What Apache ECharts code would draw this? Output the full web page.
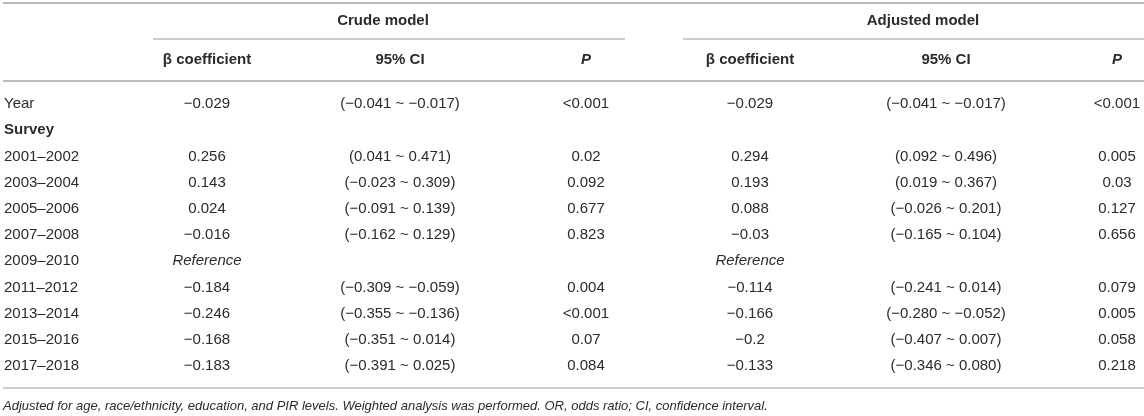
<!DOCTYPE html>
<html>
<head>
<meta charset="utf-8">
<script src="https://cdn.jsdelivr.net/npm/echarts@6/dist/echarts.min.js"></script>
<style>
  html, body { margin: 0; padding: 0; background: #fff; }
  #main { width: 1144px; height: 416px; }
</style>
</head>
<body>
<div id="main"></div>
<script>
// table rows (Year, Survey header, survey cycles)
const rowLabels = ['Year', 'Survey', '2001–2002', '2003–2004', '2005–2006', '2007–2008',
  '2009–2010', '2011–2012', '2013–2014', '2015–2016', '2017–2018'];
const boldRows = ['Survey'];
const refRow = '2009–2010';

// crude model
const crudeBeta = [-0.029, null, 0.256, 0.143, 0.024, -0.016, null, -0.184, -0.246, -0.168, -0.183];
const crudeLow = [-0.041, null, 0.041, -0.023, -0.091, -0.162, null, -0.309, -0.355, -0.351, -0.391];
const crudeHigh = [-0.017, null, 0.471, 0.309, 0.139, 0.129, null, -0.059, -0.136, 0.014, 0.025];
const crudeP = ['<0.001', '', '0.02', '0.092', '0.677', '0.823', '', '0.004', '<0.001', '0.07', '0.084'];

// adjusted model
const adjBeta = [-0.029, null, 0.294, 0.193, 0.088, -0.03, null, -0.114, -0.166, -0.2, -0.133];
const adjLow = [-0.041, null, 0.092, 0.019, -0.026, -0.165, null, -0.241, -0.280, -0.407, -0.346];
const adjHigh = [-0.017, null, 0.496, 0.367, 0.201, 0.104, null, 0.014, -0.052, 0.007, 0.080];
const adjP = ['<0.001', '', '0.005', '0.03', '0.127', '0.656', '', '0.079', '0.005', '0.058', '0.218'];

const groupTitles = ['Crude model', 'Adjusted model'];
const colTitles = ['β coefficient', '95% CI', 'P'];
const footnote = 'Adjusted for age, race/ethnicity, education, and PIR levels. Weighted analysis was performed. OR, odds ratio; CI, confidence interval.';

// layout
const W = 1144, H = 416;
const colX = { label: 4, cb: 207, cci: 400, cp: 586, ab: 750, aci: 946, ap: 1117 };
const groupSpan = [[153, 625], [683, 1144]];
const groupTitleX = [383, 923];
const FONT = '"Liberation Sans", Arial, Helvetica, sans-serif';
const FS = 15;
const TXT = '#2b2b2b';
const RULE = '#bcbcbc';

const minus = v => String(v).replace('-', '\u2212');
const fmtBeta = v => v == null ? '' : minus(v);
const fmtCI = (lo, hi) => lo == null ? '' : '(' + minus(lo.toFixed(3)) + ' ~ ' + minus(hi.toFixed(3)) + ')';

let cells = [];
rowLabels.forEach((lab, i) => {
  cells.push({ value: [colX.label, i], text: lab, align: 'left', bold: boldRows.includes(lab) });
  if (lab === refRow) {
    cells.push({ value: [colX.cb, i], text: 'Reference', align: 'center', italic: true });
    cells.push({ value: [colX.ab, i], text: 'Reference', align: 'center', italic: true });
    return;
  }
  cells.push({ value: [colX.cb, i], text: fmtBeta(crudeBeta[i]), align: 'center' });
  cells.push({ value: [colX.cci, i], text: fmtCI(crudeLow[i], crudeHigh[i]), align: 'center' });
  cells.push({ value: [colX.cp, i], text: crudeP[i], align: 'center' });
  cells.push({ value: [colX.ab, i], text: fmtBeta(adjBeta[i]), align: 'center' });
  cells.push({ value: [colX.aci, i], text: fmtCI(adjLow[i], adjHigh[i]), align: 'center' });
  cells.push({ value: [colX.ap, i], text: adjP[i], align: 'center' });
});
cells = cells.filter(c => c.text !== '');

const hline = (x1, x2, y, w) => ({
  type: 'line', silent: true,
  shape: { x1: x1, y1: y, x2: x2, y2: y },
  style: { stroke: RULE, lineWidth: w }
});
const htext = (x, y, text, style) => ({
  type: 'text', silent: true, x: x, y: y,
  style: Object.assign({ text: text, fill: TXT, align: 'center', verticalAlign: 'middle',
    font: 'bold ' + FS + 'px ' + FONT }, style || {})
});

let graphics = [
  hline(3, W, 3, 2),
  hline(groupSpan[0][0], groupSpan[0][1], 39, 1.5),
  hline(groupSpan[1][0], groupSpan[1][1], 39, 1.5),
  hline(3, W, 81, 2),
  hline(3, W, 388, 1.5),
  htext(groupTitleX[0], 21, groupTitles[0]),
  htext(groupTitleX[1], 21, groupTitles[1]),
  htext(3, 406, footnote, { align: 'left', font: 'italic 13px ' + FONT })
];
[[colX.cb, colX.cci, colX.cp], [colX.ab, colX.aci, colX.ap]].forEach(xs => {
  xs.forEach((x, k) => {
    graphics.push(htext(x, 60, colTitles[k], k === 2 ? { font: 'italic bold ' + FS + 'px ' + FONT } : null));
  });
});

var chartDom = document.getElementById('main');
var myChart = echarts.init(chartDom, null, { renderer: 'canvas' });
let option = {
  animation: false,
  backgroundColor: '#fff',
  grid: { left: 0, right: 0, top: 91, bottom: H - 379 },
  xAxis: { type: 'value', min: 0, max: W, show: false },
  yAxis: { type: 'category', data: rowLabels, inverse: true, show: false },
  graphic: graphics,
  series: [
    {
      type: 'custom',
      coordinateSystem: 'cartesian2d',
      encode: { x: 0, y: 1 },
      data: cells,
      renderItem: function (params, api) {
        const c = cells[params.dataIndex];
        const p = api.coord([api.value(0), api.value(1)]);
        let font = FS + 'px ' + FONT;
        if (c.bold) font = 'bold ' + FS + 'px ' + FONT;
        if (c.italic) font = 'italic ' + FS + 'px ' + FONT;
        return {
          type: 'text',
          x: p[0], y: p[1],
          style: { text: c.text, align: c.align, verticalAlign: 'middle', font: font, fill: TXT }
        };
      }
    }
  ]
};
myChart.setOption(option);
</script>
</body>
</html>
